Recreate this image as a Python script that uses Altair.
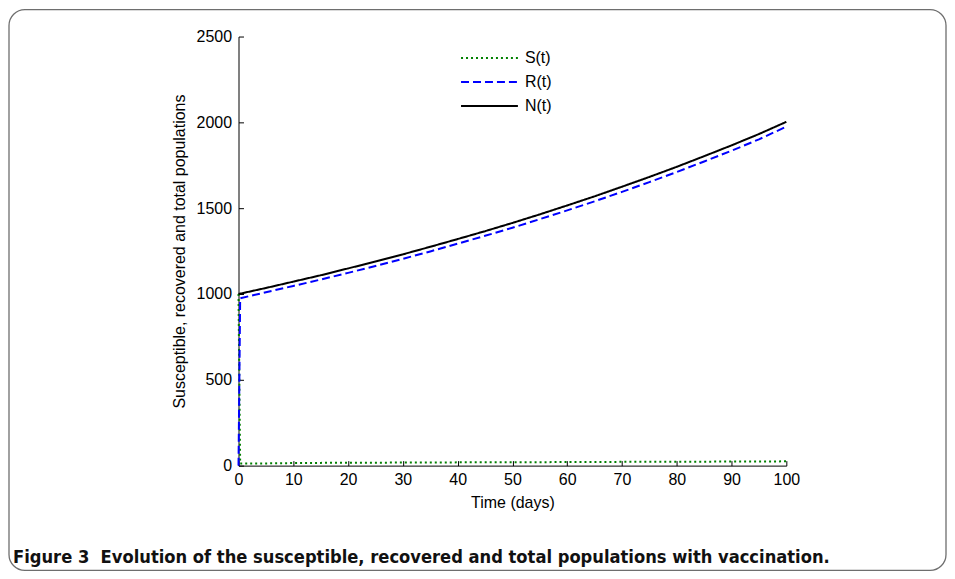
import altair as alt
import pandas as pd

# ---- data ----
t = [0, 0.3, 5, 10, 15, 20, 25, 30, 35, 40, 45, 50, 55, 60, 65, 70, 75, 80, 85, 90, 95, 100]
S = [1000, 12, 13, 15, 16, 17, 17, 18, 18, 19, 19, 20, 20, 21, 21, 22, 22, 23, 23, 24, 24, 25]
R = [0, 975, 1010, 1047, 1084, 1123, 1163, 1205, 1248, 1293, 1339, 1386, 1436, 1487, 1540,
     1595, 1652, 1711, 1772, 1835, 1901, 1975]
N = [1000, 1002, 1035, 1072, 1109, 1149, 1189, 1231, 1275, 1320, 1366, 1414, 1464, 1516, 1569,
     1625, 1682, 1741, 1803, 1866, 1932, 2003]
series_names = ["S(t)", "R(t)", "N(t)"]
colors = ["#008000", "#0000ff", "#000000"]
dashes = [[2, 3], [8, 4], [1, 0]]
x_ticks = [0, 10, 20, 30, 40, 50, 60, 70, 80, 90, 100]
y_ticks = [0, 500, 1000, 1500, 2000, 2500]
caption = "Figure 3\u00a0\u00a0Evolution of the susceptible, recovered and total populations with vaccination."

rows = []
for k, (name, vals) in enumerate(zip(series_names, [S, R, N])):
    for ti, v in zip(t, vals):
        rows.append({"t": ti, "value": v, "series": name, "k": k})
df = pd.DataFrame(rows)

W, H = 549, 430
FONT = "Liberation Sans"
xscale = alt.Scale(domain=[0, 100], nice=False, zero=False)
yscale = alt.Scale(domain=[0, 2500], nice=False)

border = alt.Chart(alt.Data(values=[{}])).mark_rect(
    filled=False, stroke="#6e6e6e", strokeWidth=1.3, cornerRadius=16
).encode(x=alt.value(-230), x2=alt.value(709), y=alt.value(-27), y2=alt.value(535))

cap = alt.Chart(alt.Data(values=[{}])).mark_text(
    text=caption, align="left", baseline="middle",
    font="'DejaVu Sans Condensed', 'Open Sans'",
    fontWeight="bold", fontSize=18.2, color="#111111"
).encode(x=alt.value(-226), y=alt.value(523))

lines = alt.Chart(df).mark_line(strokeWidth=2).encode(
    x=alt.X("t:Q", scale=xscale, title="Time (days)",
            axis=alt.Axis(values=x_ticks, ticks=False, grid=False, domainColor="black", format="d",
                          labelFlush=False, labelFontSize=16, titleFontSize=16, titleFontWeight="normal",
                          labelPadding=6, titlePadding=7, labelColor="black", titleColor="black",
                          labelFont=FONT, titleFont=FONT)),
    y=alt.Y("value:Q", scale=yscale, title="Susceptible, recovered and total populations",
            axis=alt.Axis(values=y_ticks, ticks=False, grid=False, domainColor="black", format="d",
                          labelFlush=False, labelFontSize=16, titleFontSize=16, titleFontWeight="normal",
                          labelPadding=7, titlePadding=9, labelColor="black", titleColor="black",
                          labelFont=FONT, titleFont=FONT)),
    color=alt.Color("series:N", scale=alt.Scale(domain=series_names, range=colors), title="",
                    legend=alt.Legend(orient="none", legendX=241, legendY=11, symbolType="M-3,0H3",
                                      symbolSize=361, symbolStrokeWidth=2, labelFontSize=16,
                                      labelOffset=25, rowPadding=5, padding=0, labelFont=FONT,
                                      labelColor="black")),
    strokeDash=alt.StrokeDash("series:N", scale=alt.Scale(domain=series_names, range=dashes), title=""),
    order=alt.Order("t:Q"),
)

inner_ticks = alt.Chart(df).mark_point(opacity=0).encode(
    x=alt.X("t:Q", scale=xscale, title="",
            axis=alt.Axis(orient="top", offset=-H, values=x_ticks, labels=False, domain=False,
                          grid=False, tickSize=5, tickColor="black")),
    y=alt.Y("value:Q", scale=yscale, title="",
            axis=alt.Axis(orient="right", offset=-W, values=y_ticks, labels=False, domain=False,
                          grid=False, tickSize=5, tickColor="black")),
)

chart = alt.layer(border, lines, inner_ticks, cap).resolve_axis(
    x="independent", y="independent"
).properties(width=W, height=H, padding=0, background="white").configure_view(stroke=None)

chart.save("out.html", embed_options={"renderer": "svg", "actions": False})
